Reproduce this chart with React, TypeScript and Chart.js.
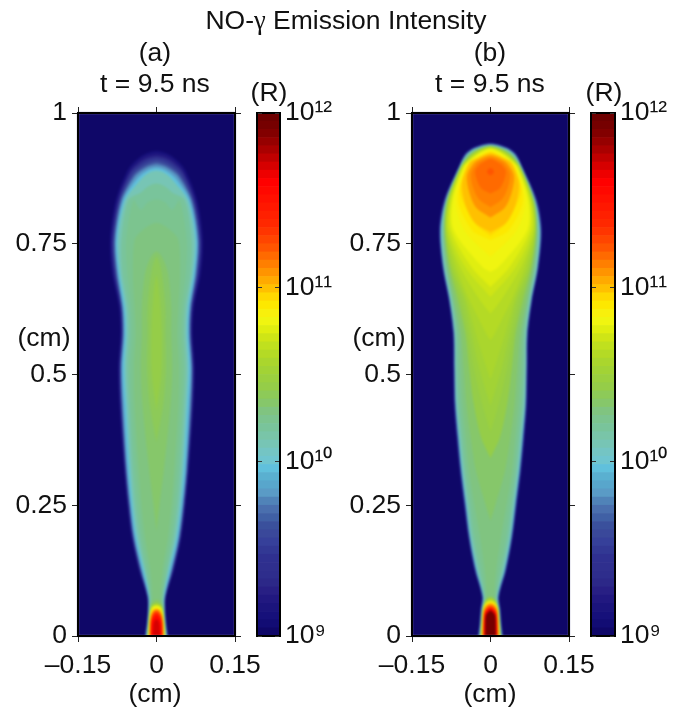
import React, { useEffect, useRef } from "react";
import { Chart, registerables } from "chart.js";

Chart.register(...registerables);

const FONT = '"Liberation Sans", Arial, sans-serif';

// 64-step colour map, low to high
const colormap = [
  "#0f0768", "#120c74", "#16107a", "#1b147c", "#211880", "#281f84", "#2c2888", "#2e2d8c",
  "#2f2f8e", "#2f3090", "#323894", "#36409a", "#3a489a", "#3a509c", "#4060a5", "#4a6fae",
  "#5083b8", "#5a9bc6", "#58a6cc", "#5ab0d0", "#60c0dc", "#6fc5cf", "#74c5c4", "#77c5b5",
  "#79c5a8", "#79c49b", "#7cc48f", "#80c480", "#86c76a", "#8dca58", "#95cd48", "#9bd03f",
  "#a2d335", "#aad62d", "#b4da25", "#c0e01e", "#cfe516", "#e0ee10", "#f0f510", "#f8f00c",
  "#fde800", "#ffd800", "#ffc000", "#ffaa00", "#ff9400", "#ff7f00", "#ff6a00", "#ff5500",
  "#ff4500", "#ff3500", "#ff2800", "#ff2000", "#ff1800", "#ff1000", "#ff0800", "#ff0000",
  "#ee0000", "#d60000", "#c00000", "#aa0000", "#960000", "#820000", "#760000", "#6e0000",
];

const xTicks = [-0.15, 0, 0.15];
const yTicks = [0, 0.25, 0.5, 0.75, 1];
const barTicks = [1e9, 1e10, 1e11, 1e12];
const barExponents: Record<string, string> = { "1000000000": "10⁹", "10000000000": "10¹⁰", "100000000000": "10¹¹", "1000000000000": "10¹²" };

// half widths (cm) of the iso-intensity outlines, by height (cm); the last pairs give the dome
const heightsA = [-0.01, 0.024, 0.05, 0.075, 0.126, 0.189, 0.253, 0.317, 0.444, 0.514, 0.578, 0.629, 0.693, 0.757, 0.833];
const a02 = [0.024, 0.019, 0.017, 0.018, 0.034, 0.048, 0.056, 0.062, 0.071, 0.073, 0.069, 0.072, 0.085, 0.089, 0.078];
const a04 = [0.0235, 0.0187, 0.0167, 0.0177, 0.033, 0.047, 0.055, 0.061, 0.07, 0.072, 0.068, 0.0705, 0.083, 0.087, 0.076];
const a07 = [0.023, 0.0185, 0.0165, 0.0175, 0.032, 0.046, 0.054, 0.06, 0.069, 0.071, 0.067, 0.069, 0.081, 0.085, 0.073];
const a10 = [0.0225, 0.0182, 0.0162, 0.0172, 0.0315, 0.0455, 0.0535, 0.0595, 0.068, 0.07, 0.066, 0.068, 0.0795, 0.0835, 0.0715];
const a12 = [0.022, 0.018, 0.016, 0.017, 0.031, 0.045, 0.053, 0.059, 0.067, 0.069, 0.065, 0.067, 0.078, 0.082, 0.07];
const a15 = [0.0218, 0.0177, 0.0157, 0.0165, 0.03, 0.044, 0.052, 0.058, 0.066, 0.068, 0.064, 0.066, 0.0765, 0.0805, 0.068];
const a17 = [0.0215, 0.0175, 0.0155, 0.016, 0.029, 0.043, 0.051, 0.057, 0.065, 0.067, 0.063, 0.065, 0.075, 0.079, 0.066];
const a20 = [0.021, 0.017, 0.015, 0.015, 0.027, 0.041, 0.049, 0.055, 0.062, 0.065, 0.061, 0.063, 0.073, 0.077, 0.063];
const a23 = [0.0195, 0.016, 0.0145, 0.0135, 0.024, 0.038, 0.046, 0.051, 0.058, 0.061, 0.058, 0.06, 0.07, 0.074, 0.06];
const a25 = [0.019, 0.016, 0.014, 0.013, 0.021, 0.033, 0.041, 0.046, 0.053, 0.056, 0.053, 0.055, 0.065, 0.067, 0.054];
const a26 = [0.017, 0.015, 0.013, 0.011, 0.017, 0.028, 0.035, 0.04, 0.048, 0.05, 0.047, 0.049, 0.056, 0.058, 0.044];
const a27 = [0.015, 0.014, 0.012, 0.008, 0.012, 0.022, 0.029, 0.034, 0.042, 0.043, 0.04, 0.042, 0.045, 0.042];
const domeA02 = [[0.055, 0.892], [0.037, 0.912], [0.02, 0.923], [0, 0.928]];
const domeA04 = [[0.052, 0.89], [0.035, 0.909], [0.019, 0.919], [0, 0.923]];
const domeA07 = [[0.05, 0.888], [0.033, 0.905], [0.018, 0.914], [0, 0.918]];
const domeA10 = [[0.048, 0.886], [0.031, 0.901], [0.017, 0.91], [0, 0.914]];
const domeA12 = [[0.046, 0.883], [0.03, 0.898], [0.016, 0.906], [0, 0.91]];
const domeA15 = [[0.044, 0.88], [0.028, 0.894], [0.015, 0.901], [0, 0.905]];
const domeA17 = [[0.041, 0.878], [0.027, 0.89], [0.014, 0.897], [0, 0.9]];
const domeA20 = [[0.038, 0.873], [0.025, 0.885], [0.013, 0.892], [0, 0.895]];
const domeA23 = [[0.034, 0.868], [0.023, 0.88], [0.012, 0.887], [0, 0.89]];
const domeA25 = [[0.03, 0.848], [0.017, 0.859], [0, 0.865]];
const domeA26 = [[0.03, 0.815], [0.017, 0.829], [0, 0.835]];
const domeA27 = [[0.028, 0.775], [0, 0.79]];
const a28Plume = [[0, 0.2], [0.006, 0.253], [0.014, 0.317], [0.027, 0.444], [0.03, 0.514], [0.028, 0.578], [0.028, 0.629], [0.022, 0.693], [0.012, 0.722], [0, 0.735]];
const a29Plume = [[0, 0.37], [0.013, 0.444], [0.018, 0.514], [0.017, 0.578], [0.017, 0.629], [0.009, 0.7], [0, 0.725]];
const a30Plume = [[0, 0.43], [0.009, 0.5], [0.01, 0.58], [0.006, 0.65], [0, 0.69]];
const a28Base = [[0.016, -0.01], [0.0145, 0.03], [0.011, 0.06], [0, 0.07]];
const a30Base = [[0.0155, -0.01], [0.0145, 0.025], [0.012, 0.05], [0.008, 0.06], [0, 0.065]];
const a34Base = [[0.0175, -0.01], [0.015, 0.025], [0.0125, 0.045], [0.009, 0.057], [0, 0.061]];
const a38Base = [[0.016, -0.01], [0.0145, 0.025], [0.012, 0.045], [0.008, 0.055], [0, 0.058]];
const a42Base = [[0.0145, -0.01], [0.0135, 0.025], [0.011, 0.04], [0.007, 0.05], [0, 0.053]];
const a46Base = [[0.013, -0.01], [0.012, 0.025], [0.01, 0.04], [0.006, 0.047], [0, 0.05]];
const a50Base = [[0.012, -0.01], [0.011, 0.025], [0.009, 0.035], [0.005, 0.043], [0, 0.046]];
const a54Base = [[0.0105, -0.01], [0.0095, 0.025], [0.007, 0.033], [0.0035, 0.038], [0, 0.04]];
const a57Base = [[0.007, -0.01], [0.006, 0.02], [0.004, 0.028], [0, 0.032]];

const heightsB = [-0.01, 0.024, 0.05, 0.075, 0.126, 0.189, 0.253, 0.317, 0.38, 0.444, 0.514, 0.578, 0.642, 0.705, 0.776, 0.833, 0.897];
const b02 = [0.026, 0.022, 0.02, 0.017, 0.031, 0.043, 0.052, 0.06, 0.066, 0.071, 0.072, 0.073, 0.081, 0.093, 0.099, 0.09, 0.061];
const b08 = [0.025, 0.021, 0.019, 0.0165, 0.03, 0.042, 0.05, 0.058, 0.064, 0.069, 0.0705, 0.0715, 0.0795, 0.0915, 0.0975, 0.0885, 0.0605];
const b14 = [0.024, 0.02, 0.018, 0.0155, 0.029, 0.041, 0.049, 0.057, 0.063, 0.068, 0.0695, 0.0705, 0.0785, 0.0905, 0.0965, 0.087, 0.06];
const b19 = [0.023, 0.0195, 0.0175, 0.0145, 0.028, 0.04, 0.048, 0.056, 0.062, 0.067, 0.0685, 0.0695, 0.078, 0.09, 0.0955, 0.086, 0.0595];
const b23 = [0.022, 0.0185, 0.0165, 0.013, 0.026, 0.038, 0.046, 0.054, 0.06, 0.066, 0.068, 0.069, 0.077, 0.089, 0.094, 0.085, 0.059];
const b25 = [0.021, 0.018, 0.016, 0.012, 0.022, 0.034, 0.042, 0.05, 0.056, 0.062, 0.065, 0.066, 0.074, 0.086, 0.091, 0.084, 0.058];
const b26 = [0.019, 0.017, 0.015, 0.01, 0.017, 0.029, 0.037, 0.046, 0.052, 0.058, 0.061, 0.063, 0.072, 0.084, 0.09, 0.0835, 0.0575];
const b27 = [0.017, 0.016, 0.0135, 0.008, 0.011, 0.02, 0.031, 0.041, 0.047, 0.053, 0.057, 0.06, 0.071, 0.083, 0.089, 0.083, 0.057];
const domeB02 = [[0.05, 0.922], [0.033, 0.935], [0, 0.9425]];
const domeB08 = [[0.049, 0.921], [0.032, 0.934], [0, 0.942]];
const domeB14 = [[0.048, 0.92], [0.0315, 0.933], [0, 0.941]];
const domeB19 = [[0.047, 0.92], [0.031, 0.932], [0, 0.94]];
const domeB23 = [[0.046, 0.919], [0.03, 0.931], [0, 0.939]];
const domeB25 = [[0.045, 0.918], [0.029, 0.93], [0, 0.938]];
const domeB26 = [[0.0445, 0.918], [0.0285, 0.93], [0, 0.9375]];
const domeB27 = [[0.044, 0.917], [0.028, 0.929], [0, 0.937]];
const b28 = [[0, 0.22], [0.01, 0.253], [0.028, 0.317], [0.038, 0.38], [0.046, 0.444], [0.051, 0.514], [0.056, 0.578], [0.068, 0.642], [0.081, 0.705], [0.088, 0.776], [0.083, 0.833], [0.0565, 0.897], [0.043, 0.917], [0.027, 0.929], [0, 0.9365]];
const b30 = [[0, 0.34], [0.018, 0.38], [0.032, 0.444], [0.041, 0.514], [0.048, 0.578], [0.062, 0.642], [0.078, 0.705], [0.087, 0.776], [0.082, 0.833], [0.056, 0.897], [0.042, 0.916], [0.026, 0.928], [0, 0.936]];
const b31 = [[0, 0.39], [0.016, 0.444], [0.032, 0.514], [0.042, 0.578], [0.056, 0.642], [0.076, 0.705], [0.0865, 0.776], [0.0815, 0.833], [0.0558, 0.897], [0.0415, 0.916], [0.0255, 0.928], [0, 0.9358]];
const b32 = [[0, 0.44], [0.022, 0.514], [0.036, 0.578], [0.05, 0.642], [0.074, 0.705], [0.086, 0.776], [0.081, 0.833], [0.0555, 0.897], [0.041, 0.916], [0.025, 0.928], [0, 0.9355]];
const b33 = [[0, 0.49], [0.008, 0.514], [0.028, 0.578], [0.046, 0.642], [0.07, 0.705], [0.085, 0.776], [0.08, 0.833], [0.055, 0.897], [0.04, 0.915], [0.024, 0.927], [0, 0.935]];
const b34 = [[0, 0.565], [0.008, 0.578], [0.04, 0.642], [0.065, 0.705], [0.084, 0.776], [0.079, 0.833], [0.0545, 0.897], [0.039, 0.914], [0.023, 0.926], [0, 0.934]];
const b35 = [[0, 0.616], [0.02, 0.642], [0.058, 0.705], [0.082, 0.776], [0.078, 0.833], [0.054, 0.897], [0.038, 0.914], [0.022, 0.926], [0, 0.9335]];
const b36 = [[0, 0.648], [0.048, 0.705], [0.079, 0.776], [0.076, 0.833], [0.053, 0.897], [0.037, 0.914], [0.021, 0.925], [0, 0.933]];
const b37 = [[0, 0.667], [0.036, 0.705], [0.075, 0.776], [0.074, 0.833], [0.0515, 0.897], [0.036, 0.913], [0.02, 0.924], [0, 0.932]];
const b38 = [[0, 0.696], [0.015, 0.705], [0.07, 0.776], [0.072, 0.833], [0.05, 0.897], [0.034, 0.913], [0.019, 0.924], [0, 0.931]];
const b39 = [[0, 0.725], [0.05, 0.776], [0.067, 0.833], [0.048, 0.897], [0.031, 0.912], [0.017, 0.922], [0, 0.929]];
const b40 = [[0, 0.757], [0.035, 0.776], [0.062, 0.833], [0.046, 0.897], [0.029, 0.912], [0.016, 0.92], [0, 0.927]];
const b41 = [[0, 0.765], [0.03, 0.79], [0.058, 0.85], [0.043, 0.9], [0.027, 0.911], [0.015, 0.918], [0, 0.925]];
const b42 = [[0, 0.772], [0.03, 0.79], [0.048, 0.825], [0.054, 0.865], [0.04, 0.905], [0.023, 0.915], [0, 0.923]];
const b44 = [[0, 0.8], [0.028, 0.82], [0.041, 0.85], [0.045, 0.88], [0.033, 0.903], [0.022, 0.911], [0, 0.919]];
const b45 = [[0, 0.82], [0.022, 0.835], [0.034, 0.86], [0.037, 0.885], [0.026, 0.903], [0.018, 0.908], [0, 0.915]];
const b46 = [[0, 0.846], [0.017, 0.855], [0.027, 0.875], [0.029, 0.89], [0.02, 0.902], [0.014, 0.906], [0, 0.912]];
const b47 = [[0, 0.881], [0.005, 0.884], [0.0065, 0.888], [0.005, 0.892], [0, 0.895]];
const b30Base = [[0.0155, -0.01], [0.0145, 0.03], [0.0125, 0.055], [0.01, 0.068], [0, 0.075]];
const b34Base = [[0.019, -0.01], [0.017, 0.03], [0.0145, 0.055], [0.009, 0.066], [0, 0.071]];
const b38Base = [[0.018, -0.01], [0.016, 0.03], [0.014, 0.05], [0.009, 0.063], [0, 0.067]];
const b42Base = [[0.016, -0.01], [0.015, 0.03], [0.013, 0.05], [0.008, 0.06], [0, 0.064]];
const b46Base = [[0.015, -0.01], [0.014, 0.03], [0.012, 0.05], [0.007, 0.057], [0, 0.06]];
const b50Base = [[0.014, -0.01], [0.013, 0.03], [0.011, 0.045], [0.006, 0.053], [0, 0.056]];
const b54Base = [[0.0125, -0.01], [0.012, 0.03], [0.01, 0.045], [0.005, 0.05], [0, 0.053]];
const b58Base = [[0.011, -0.01], [0.0105, 0.03], [0.009, 0.042], [0.004, 0.048], [0, 0.05]];
const b62Base = [[0.0095, -0.01], [0.0095, 0.03], [0.008, 0.04], [0.004, 0.045], [0, 0.048]];

const withHeights = (r: number[], heights: number[], dome: number[][]) => [...r.map((v, i) => [v, heights[i]]), ...dome];

// [colour index, outline] from the outermost to the innermost
const panelA: [number, number[][]][] = [
  [2, withHeights(a02, heightsA, domeA02)],
  [4, withHeights(a04, heightsA, domeA04)],
  [7, withHeights(a07, heightsA, domeA07)],
  [10, withHeights(a10, heightsA, domeA10)],
  [12, withHeights(a12, heightsA, domeA12)],
  [15, withHeights(a15, heightsA, domeA15)],
  [17, withHeights(a17, heightsA, domeA17)],
  [20, withHeights(a20, heightsA, domeA20)],
  [23, withHeights(a23, heightsA, domeA23)],
  [25, withHeights(a25, heightsA, domeA25)],
  [26, withHeights(a26, heightsA, domeA26)],
  [27, withHeights(a27, heightsA, domeA27)],
  [28, a28Plume], [29, a29Plume], [30, a30Plume],
  [28, a28Base], [30, a30Base], [34, a34Base], [38, a38Base], [42, a42Base],
  [46, a46Base], [50, a50Base], [54, a54Base], [57, a57Base],
];
const panelB: [number, number[][]][] = [
  [2, withHeights(b02, heightsB, domeB02)],
  [8, withHeights(b08, heightsB, domeB08)],
  [14, withHeights(b14, heightsB, domeB14)],
  [19, withHeights(b19, heightsB, domeB19)],
  [23, withHeights(b23, heightsB, domeB23)],
  [25, withHeights(b25, heightsB, domeB25)],
  [26, withHeights(b26, heightsB, domeB26)],
  [27, withHeights(b27, heightsB, domeB27)],
  [28, b28], [30, b30], [31, b31], [32, b32], [33, b33], [34, b34], [35, b35], [36, b36], [37, b37],
  [38, b38], [39, b39], [40, b40], [41, b41], [42, b42], [44, b44], [45, b45], [46, b46], [47, b47],
  [30, b30Base], [34, b34Base], [38, b38Base], [42, b42Base], [46, b46Base], [50, b50Base],
  [54, b54Base], [58, b58Base], [62, b62Base],
];

const background = [[-0.2, -0.1], [0.2, -0.1], [0.2, 1.1], [-0.2, 1.1]];

const closed = (half: number[][]) => {
  const left = half.slice(0, -1).reverse().map(([r, y]) => ({ x: -r, y }));
  return [...half.map(([r, y]) => ({ x: r, y })), ...left];
};

const fmtNum = (v: number) => (v < 0 ? "–" + Math.abs(v) : String(v));
const W = 685;
const H = 710;
const AXIS_H = 50;
const sizeW = (w: number) => (s: any) => { s.width = w; };
const sizeH = (h: number) => (s: any) => { s.height = h; };
const tickFont = { family: FONT, size: 26.5 };

// the filled outlines, without any axis decoration
function fillConfig(levels: [number, number[][]][], left: number, right: number): any {
  const datasets: any[] = [
    { data: background.map(([x, y]) => ({ x, y })), showLine: true, fill: "shape", backgroundColor: colormap[0], borderWidth: 0, pointRadius: 0, tension: 0, order: levels.length + 1 },
    ...levels.map(([idx, half], i) => ({
      data: closed(half), showLine: true, fill: "shape", backgroundColor: colormap[idx],
      borderColor: colormap[idx], borderWidth: 0, pointRadius: 0, tension: 0.3, order: levels.length - i,
    })),
  ];
  return {
    type: "scatter",
    data: { datasets },
    options: {
      responsive: false, animation: false,
      layout: { autoPadding: false, padding: { left, right: W - right, top: 113, bottom: H - 636 } },
      plugins: { legend: { display: false }, tooltip: { enabled: false }, title: { display: false } },
      scales: {
        x: { type: "linear", display: false, min: -0.15, max: 0.15 },
        y: { type: "linear", display: false, min: 0, max: 1 },
      },
    },
  };
}

// frame, ticks and tick labels of a panel
function axesConfig(left: number, right: number): any {
  const grid = { drawOnChartArea: false, tickLength: 6, tickWidth: 1, tickColor: "#222", z: 1 };
  const border = { display: true, color: "#000", width: 2, z: 1 };
  const setX = (s: any) => { s.ticks = xTicks.map((value) => ({ value })); };
  const setY = (s: any) => { s.ticks = yTicks.map((value) => ({ value })); };
  const axisW = 78;
  return {
    type: "scatter",
    data: { datasets: [{ data: [] }] },
    options: {
      responsive: false, animation: false,
      layout: { autoPadding: false, padding: { left: left - axisW, right: W - right, top: 113, bottom: H - 636 - AXIS_H } },
      plugins: { legend: { display: false }, tooltip: { enabled: false }, title: { display: false } },
      scales: {
        x: { type: "linear", position: "bottom", min: -0.15, max: 0.15, afterFit: sizeH(AXIS_H), afterBuildTicks: setX, grid, border,
          ticks: { font: tickFont, color: "#111", padding: 8, autoSkip: false, maxRotation: 0, minRotation: 0, callback: (v: number) => fmtNum(v) } },
        x2: { type: "linear", position: "top", min: -0.15, max: 0.15, afterFit: sizeH(0), afterBuildTicks: setX, grid, border, ticks: { display: false } },
        y: { type: "linear", position: "left", min: 0, max: 1, afterFit: sizeW(axisW), afterBuildTicks: setY, grid, border,
          ticks: { font: tickFont, color: "#111", padding: 5, autoSkip: false, callback: (v: number) => String(v) } },
        y2: { type: "linear", position: "right", min: 0, max: 1, afterFit: sizeW(0), afterBuildTicks: setY, grid, border, ticks: { display: false } },
      },
    },
  };
}

function barConfig(left: number, right: number): any {
  const step = 3 / colormap.length;
  const datasets = colormap.map((c, i) => ({
    data: [[Math.pow(10, 9 + i * step), Math.pow(10, 9 + (i + 1) * step)]],
    backgroundColor: c, borderWidth: 0, barPercentage: 1, categoryPercentage: 1,
  }));
  const setY = (s: any) => { s.ticks = barTicks.map((value) => ({ value })); };
  const grid = { drawOnChartArea: false, tickLength: -5, tickWidth: 1, tickColor: "#333", z: 1 };
  const border = { display: true, color: "#000", width: 2, z: 1 };
  const axisW = 70;
  return {
    type: "bar",
    data: { labels: ["R"], datasets },
    options: {
      responsive: false, animation: false,
      layout: { autoPadding: false, padding: { left, right: W - right - axisW, top: 113, bottom: H - 636 } },
      plugins: { legend: { display: false }, tooltip: { enabled: false }, title: { display: false } },
      scales: {
        x: { stacked: true, position: "bottom", afterFit: sizeH(0), grid: { display: false, drawOnChartArea: false }, border, ticks: { display: false } },
        x2: { type: "category", labels: ["R"], position: "top", afterFit: sizeH(0), grid: { display: false }, border, ticks: { display: false } },
        y: { type: "logarithmic", position: "left", min: 1e9, max: 1e12, afterFit: sizeW(0), afterBuildTicks: setY, grid, border, ticks: { display: false } },
        y2: { type: "logarithmic", position: "right", min: 1e9, max: 1e12, afterFit: sizeW(axisW), afterBuildTicks: setY, grid, border,
          ticks: { font: tickFont, color: "#111", padding: 10, autoSkip: false, callback: (v: number) => barExponents[String(v)] } },
      },
    },
  };
}

const Canvas = ({ config, soft }: { config: any; soft?: boolean }) => {
  const ref = useRef<HTMLCanvasElement>(null);
  useEffect(() => {
    const chart = new Chart(ref.current!, config);
    return () => chart.destroy();
  }, []);
  return <canvas ref={ref} width={W} height={H} style={{ position: "absolute", left: 0, top: 0, width: W, height: H, filter: soft ? "blur(0.8px)" : undefined }} />;
};

const Label = ({ x, y, children }: { x: number; y: number; children: React.ReactNode }) => (
  <div style={{ position: "absolute", left: x - 150, top: y - 15, width: 300, height: 30, lineHeight: "30px", textAlign: "center", font: `26.5px ${FONT}`, color: "#111", whiteSpace: "nowrap", zIndex: 2 }}>
    {children}
  </div>
);

export default function App() {
  return (
    <div style={{ position: "fixed", left: 0, top: 0, width: W, height: H, background: "#fff", overflow: "hidden" }}>
      <Canvas config={fillConfig(panelA, 78, 235)} soft />
      <Canvas config={axesConfig(78, 235)} />
      <Canvas config={barConfig(257, 280)} />
      <Canvas config={fillConfig(panelB, 412, 569)} soft />
      <Canvas config={axesConfig(412, 569)} />
      <Canvas config={barConfig(591, 615)} />
      <Label x={346} y={20}>NO-<span style={{ fontFamily: '"Liberation Serif", serif' }}>γ</span> Emission Intensity</Label>
      <Label x={155} y={52}>(a)</Label>
      <Label x={155} y={83}>t = 9.5 ns</Label>
      <Label x={269} y={92}>(R)</Label>
      <Label x={44} y={337}>(cm)</Label>
      <Label x={155} y={693}>(cm)</Label>
      <Label x={490} y={52}>(b)</Label>
      <Label x={490} y={83}>t = 9.5 ns</Label>
      <Label x={604} y={92}>(R)</Label>
      <Label x={379} y={337}>(cm)</Label>
      <Label x={490} y={693}>(cm)</Label>
    </div>
  );
}
